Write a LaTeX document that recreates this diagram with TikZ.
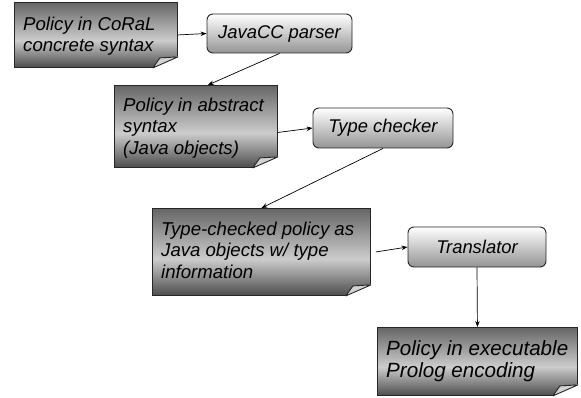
\documentclass[tikz,border=0pt]{standalone}
\usepackage{fontspec}
\setmainfont{Liberation Sans}
\usetikzlibrary{calc,arrows.meta}
\definecolor{docdarktop}{gray}{0.40}
\definecolor{docdarkbot}{gray}{0.30}
\definecolor{doclight}{gray}{0.80}
\definecolor{boxlow}{gray}{0.58}
\pgfdeclareverticalshading{docshade}{100bp}{color(0bp)=(docdarkbot); color(25bp)=(docdarkbot); color(46bp)=(doclight); color(75bp)=(docdarktop); color(100bp)=(docdarktop)}
\tikzset{
  docbox/.style={draw=black!85, line width=0.9pt, shading=docshade, anchor=north west, inner sep=0pt},
  doctext/.style={anchor=north west, align=left, inner sep=0pt, font=\fontsize{18.6}{21.5}\selectfont\itshape},
  bigtext/.style={doctext, font=\fontsize{20.6}{22.3}\selectfont\itshape},
  procbox/.style={draw=black!85, line width=0.9pt, rounded corners=6pt, top color=white, bottom color=boxlow, inner sep=0pt, font=\fontsize{18.4}{21.5}\selectfont\itshape},
  arr/.style={-{Stealth[length=6pt,width=4.5pt]}, line width=0.7pt},
  fold/.style={fill=gray!35, draw=black!85, line width=0.9pt, line join=round}
}
\newcommand\dogear[1]{%
  \fill[white] ($(#1.south east)+(-26,0.7)$) -- ($(#1.south east)+(0.7,0.7)$) -- ($(#1.south east)+(0.7,-12)$) -- cycle;
  \filldraw[fold] ($(#1.south east)+(-25,0)$) -- ($(#1.south east)+(-18,-10)$) -- ($(#1.south east)+(0,-11)$) -- cycle;
}
\begin{document}
\begin{tikzpicture}[x=1pt,y=-1pt]
\useasboundingbox[fill=white] (0,0) rectangle (581,398);
% documents
\node[docbox, minimum width=163pt, minimum height=65pt] (d1) at (14,2) {};
\dogear{d1}
\node[doctext] (t1) at ($(d1.north west)+(9,14)$) {\rule{0pt}{14pt}Policy in CoRaL\\concrete syntax};
\node[docbox, minimum width=163pt, minimum height=82pt] (d2) at (114,85) {};
\dogear{d2}
\node[doctext] (t2) at ($(d2.north west)+(9,12)$) {\rule{0pt}{14pt}Policy in abstract\\syntax\\(Java objects)};
\node[docbox, minimum width=218pt, minimum height=87pt] (d3) at (152,208) {};
\dogear{d3}
\node[doctext] (t3) at ($(d3.north west)+(9,13)$) {\rule{0pt}{14pt}Type-checked policy as\\Java objects w/ type\\information};
\node[docbox, minimum width=200pt, minimum height=68pt] (d4) at (377,327) {};
\dogear{d4}
\node[bigtext] (t4) at ($(d4.north west)+(9,12.5)$) {\rule{0pt}{15.5pt}Policy in executable\\Prolog encoding};
% processes
\node[procbox, minimum width=145pt, minimum height=39pt] (p1) at (279.5,33.5) {JavaCC parser};
\node[procbox, minimum width=140pt, minimum height=40pt] (p2) at (383,128) {Type checker};
\node[procbox, minimum width=138pt, minimum height=40pt] (p3) at (477,247) {Translator};
% connectors
\draw[arr] (d1.east) -- (p1.west);
\draw[arr] (p1.south) -- ($(d2.north)+(12,0)$);
\draw[arr] ($(d2.east)+(0,6)$) -- (p2.west);
\draw[arr] (p2.south) -- (d3.north);
\draw[arr] ($(d3.east)+(5,0)$) -- (p3.west);
\draw[arr] (p3.south) -- (d4.north);
\end{tikzpicture}
\end{document}
